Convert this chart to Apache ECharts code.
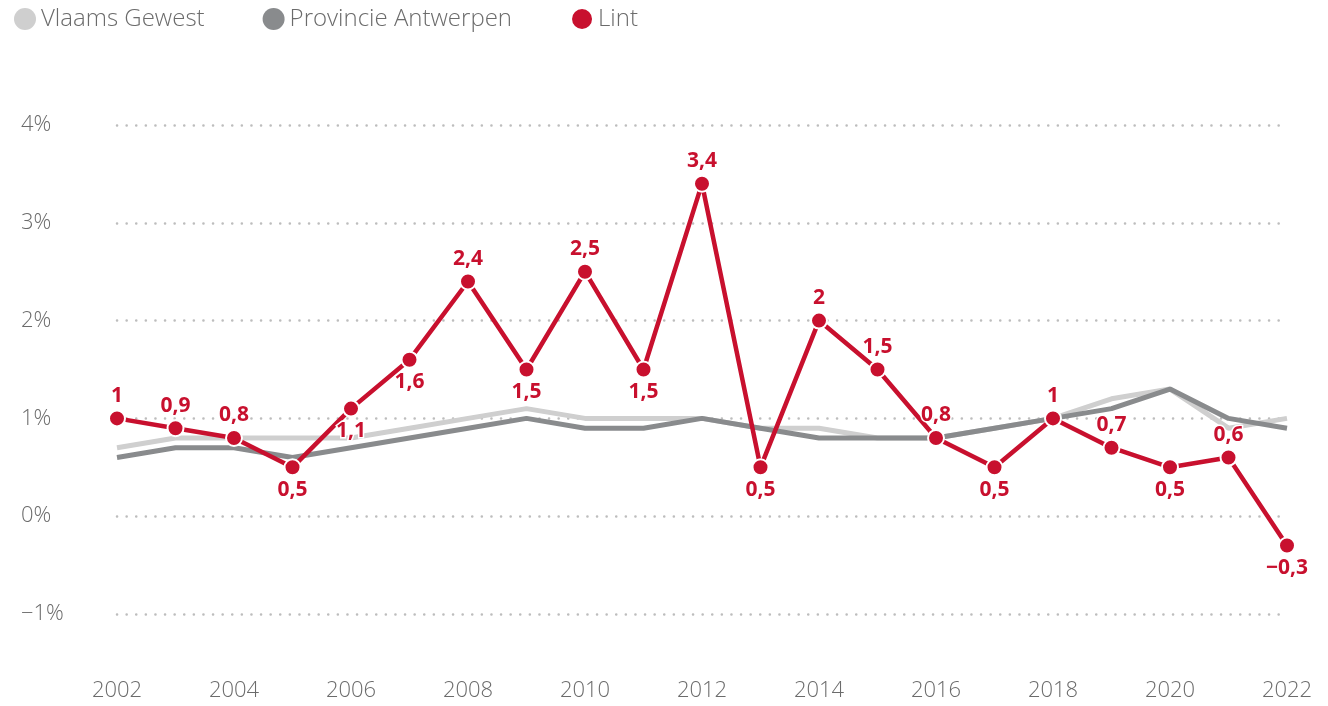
<!DOCTYPE html>
<html style="height: 100%">
<head>
  <meta charset="UTF-8" />
  <title>Lint</title>
  <script src="https://cdn.jsdelivr.net/npm/echarts@6/dist/echarts.min.js"></script>
  <style>
    body { margin: 0; background: #fff; }
    #main { width: 1328px; height: 706px; }
  </style>
</head>
<body>
  <div id="main"></div>
  <script>
    const years = [2002, 2003, 2004, 2005, 2006, 2007, 2008, 2009, 2010, 2011, 2012,
                   2013, 2014, 2015, 2016, 2017, 2018, 2019, 2020, 2021, 2022];
    const vlaams = [0.7, 0.8, 0.8, 0.8, 0.8, 0.9, 1.0, 1.1, 1.0, 1.0, 1.0,
                    0.9, 0.9, 0.8, 0.8, 0.9, 1.0, 1.2, 1.3, 0.9, 1.0];
    const antwerpen = [0.6, 0.7, 0.7, 0.6, 0.7, 0.8, 0.9, 1.0, 0.9, 0.9, 1.0,
                       0.9, 0.8, 0.8, 0.8, 0.9, 1.0, 1.1, 1.3, 1.0, 0.9];
    const lint = [1, 0.9, 0.8, 0.5, 1.1, 1.6, 2.4, 1.5, 2.5, 1.5, 3.4,
                  0.5, 2, 1.5, 0.8, 0.5, 1, 0.7, 0.5, 0.6, -0.3];
    const names = ['Vlaams Gewest', 'Provincie Antwerpen', 'Lint'];

    // jaren waar het label onder het punt staat
    const labelBelow = [2005, 2006, 2007, 2009, 2011, 2013, 2017, 2020, 2022];

    const red = '#c8102e';
    const grey = '#6b6b6b';
    const font = '"Open Sans", sans-serif';
    const fmt = v => (v < 0 ? '\u2212' : '') + String(Math.abs(v)).replace('.', ',');

    let chart = echarts.init(document.getElementById('main'));
    chart.setOption({
      animation: false,
      textStyle: { fontFamily: font },
      legend: {
        left: 9, top: 2,
        icon: 'circle',
        itemWidth: 22, itemHeight: 22,
        itemGap: 58,
        itemTextGap: 16,
        textStyle: { fontSize: 24, color: grey, fontWeight: 300, fontFamily: font },
        data: names
      },
      grid: { left: 117, right: 41, top: 125, bottom: 92 },
      xAxis: {
        type: 'value',
        min: 2002, max: 2022, interval: 2,
        axisLine: { show: false },
        axisTick: { show: false },
        splitLine: { show: false },
        axisLabel: {
          margin: 66, fontSize: 22, color: grey, fontWeight: 300, fontFamily: font,
          formatter: v => String(v)
        }
      },
      yAxis: {
        type: 'value',
        min: -1, max: 4, interval: 1,
        axisLine: { show: false },
        axisTick: { show: false },
        axisLabel: {
          align: 'left', margin: 96, fontSize: 22, color: grey, fontWeight: 300, fontFamily: font,
          formatter: v => (v < 0 ? '\u2212' : '') + Math.abs(v) + '%'
        },
        splitLine: { lineStyle: { color: '#bdbdbd', width: 2.5, type: [0.1, 9.5], cap: 'round' } }
      },
      series: [
        {
          name: names[0], type: 'line',
          data: years.map((y, i) => [y, vlaams[i]]),
          showSymbol: false, symbol: 'circle',
          itemStyle: { color: '#cfcfcf' },
          lineStyle: { width: 5, color: '#cfcfcf' }
        },
        {
          name: names[1], type: 'line',
          data: years.map((y, i) => [y, antwerpen[i]]),
          showSymbol: false, symbol: 'circle',
          itemStyle: { color: '#898b8d' },
          lineStyle: { width: 5, color: '#898b8d' }
        },
        {
          name: names[2], type: 'line',
          data: years.map((y, i) => ({
            value: [y, lint[i]],
            label: { position: labelBelow.includes(y) ? 'bottom' : 'top' }
          })),
          symbol: 'circle', symbolSize: 16,
          itemStyle: { color: red, borderColor: '#fff', borderWidth: 2 },
          lineStyle: { width: 4.5, color: red },
          label: {
            show: true, distance: 3,
            color: red, fontSize: 21, fontWeight: 'bold', fontFamily: font,
            textBorderColor: '#fff', textBorderWidth: 3,
            formatter: p => fmt(p.value[1])
          },
          z: 5
        }
      ]
    });
  </script>
</body>
</html>
